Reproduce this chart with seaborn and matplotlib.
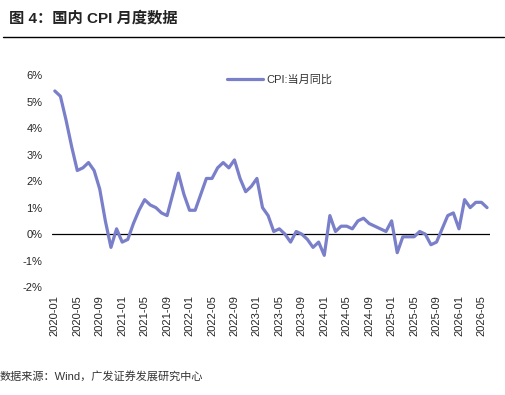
import pandas as pd
import seaborn as sns
import matplotlib.pyplot as plt

sns.set_style('white')
plt.rcParams['font.family'] = ['Liberation Sans', 'Noto Sans CJK SC', 'DejaVu Sans']
plt.rcParams['axes.unicode_minus'] = False

# 月份 2020-01 ~ 2026-06
months = pd.period_range('2020-01', '2026-06', freq='M').strftime('%Y-%m').tolist()

# CPI 当月同比 (%)
cpi_2020 = [5.4, 5.2, 4.3, 3.3, 2.4, 2.5, 2.7, 2.4, 1.7, 0.5, -0.5, 0.2]
cpi_2021 = [-0.3, -0.2, 0.4, 0.9, 1.3, 1.1, 1.0, 0.8, 0.7, 1.5, 2.3, 1.5]
cpi_2022 = [0.9, 0.9, 1.5, 2.1, 2.1, 2.5, 2.7, 2.5, 2.8, 2.1, 1.6, 1.8]
cpi_2023 = [2.1, 1.0, 0.7, 0.1, 0.2, 0.0, -0.3, 0.1, 0.0, -0.2, -0.5, -0.3]
cpi_2024 = [-0.8, 0.7, 0.1, 0.3, 0.3, 0.2, 0.5, 0.6, 0.4, 0.3, 0.2, 0.1]
cpi_2025 = [0.5, -0.7, -0.1, -0.1, -0.1, 0.1, 0.0, -0.4, -0.3, 0.2, 0.7, 0.8]
cpi_2026 = [0.2, 1.3, 1.0, 1.2, 1.2, 1.0]
cpi = cpi_2020 + cpi_2021 + cpi_2022 + cpi_2023 + cpi_2024 + cpi_2025 + cpi_2026

yticks = [-2, -1, 0, 1, 2, 3, 4, 5, 6]

df = pd.DataFrame({'idx': range(len(months)), 'month': months, 'cpi': cpi})

fig = plt.figure(figsize=(5.05, 3.95), dpi=100)
ax = fig.add_axes([0.103, 0.273, 0.867, 0.537])

ax.axhline(0, color='black', lw=0.9, zorder=1)
sns.lineplot(data=df, x='idx', y='cpi', ax=ax, color='#7a7fca', lw=2.3,
             label='CPI:当月同比', zorder=2)

ax.set_xlim(-0.5, len(months) - 0.5)
ax.set_ylim(-2, 6)
ax.set_yticks(yticks)
ax.set_yticklabels([f'{v}%' for v in yticks])
ax.set_xticks(df['idx'][::4])
ax.set_xticklabels(df['month'][::4], rotation=90)
ax.tick_params(axis='x', labelsize=8, pad=6, length=0)
ax.tick_params(axis='y', labelsize=8, pad=7, length=0)
ax.set_xlabel('')
ax.set_ylabel('')
for s in ax.spines.values():
    s.set_visible(False)

leg = ax.legend(loc='upper center', bbox_to_anchor=(0.52, 1.05), frameon=False,
                fontsize=8, handlelength=3.2, handletextpad=0.3)
for t in leg.get_texts():
    t.set_color('#333333')

fig.text(0.018, 0.955, '图 4：国内 CPI 月度数据', fontsize=11, fontweight='bold',
         va='center', ha='left', color='#222222')
fig.add_artist(plt.Line2D([0.006, 0.998], [0.906, 0.906], color='black', lw=1))
fig.text(0.0, 0.048, '数据来源：Wind，广发证券发展研究中心', fontsize=8,
         va='center', ha='left', color='#333333')

fig.savefig('out.png', dpi=100)
